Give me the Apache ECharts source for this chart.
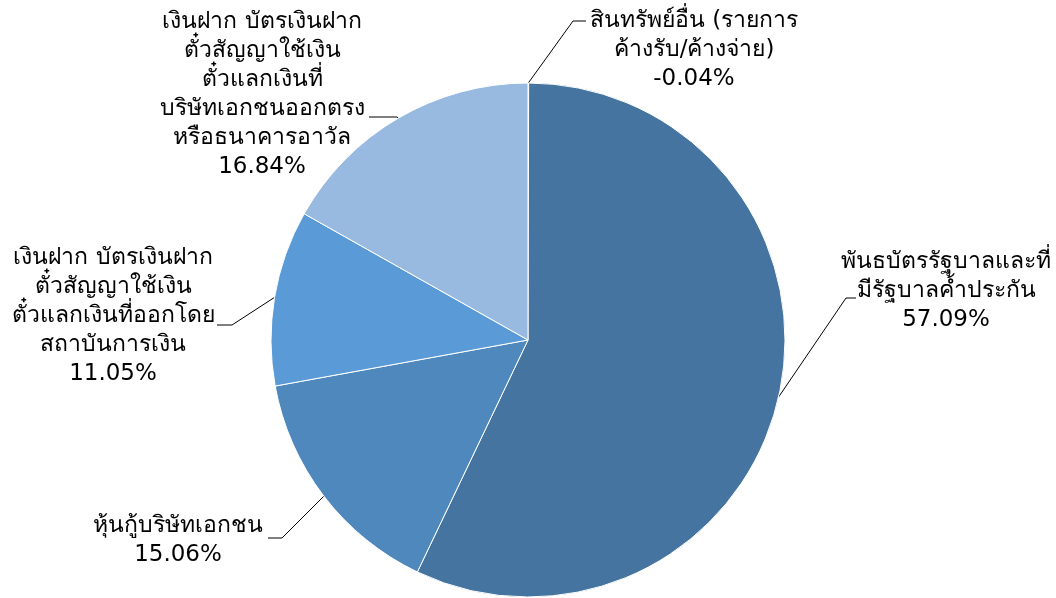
<!DOCTYPE html>
<html>
<head>
<meta charset="utf-8">
<script src="https://cdn.jsdelivr.net/npm/echarts@6/dist/echarts.min.js"></script>
<style>
  html, body { margin: 0; padding: 0; background: #fff; }
  #main { width: 1056px; height: 598px; }
</style>
</head>
<body>
<div id="main"></div>
<script>
// สัดส่วนการลงทุน (pie)
var names = [
    'สินทรัพย์อื่น (รายการ\nค้างรับ/ค้างจ่าย)',
    'พันธบัตรรัฐบาลและที่\nมีรัฐบาลค้ำประกัน',
    'หุ้นกู้บริษัทเอกชน',
    'เงินฝาก บัตรเงินฝาก\nตั๋วสัญญาใช้เงิน\nตั๋วแลกเงินที่ออกโดย\nสถาบันการเงิน',
    'เงินฝาก บัตรเงินฝาก\nตั๋วสัญญาใช้เงิน\nตั๋วแลกเงินที่\nบริษัทเอกชนออกตรง\nหรือธนาคารอาวัล'
];
var percents = [-0.04, 57.09, 15.06, 11.05, 16.84];
var colors = ['#44749f', '#44749f', '#4f88bc', '#5a9ad6', '#98b9e0'];

// ตำแหน่งป้าย (กลางกล่องข้อความ, จุดหักเส้น, ปลายเส้น)
var labelPos = [
    { c: [694, 50],  elbow: [573, 21],  end: [586, 21] },
    { c: [946, 291], elbow: [846, 298], end: [856, 298] },
    { c: [178, 541], elbow: [282, 538], end: [268, 538] },
    { c: [113, 316], elbow: [232, 325], end: [217, 325] },
    { c: [262, 95],  elbow: [397, 117], end: [369, 117] }
];

var pieData = names.map(function (n, i) {
    return {
        name: n,
        // excel ใช้ค่าสัมบูรณ์สำหรับค่าติดลบ
        value: Math.abs(percents[i]),
        pct: percents[i],
        itemStyle: { color: colors[i] }
    };
});

var font = 'Tahoma, "DejaVu Sans", sans-serif';

var option = {
    animation: false,
    series: [{
        type: 'pie',
        center: [528, 340],
        radius: 257,
        startAngle: 90,
        clockwise: true,
        data: pieData,
        itemStyle: { borderColor: '#ffffff', borderWidth: 1 },
        label: {
            show: true,
            fontFamily: font,
            fontSize: 23,
            color: '#000',
            formatter: function (p) {
                var lines = p.data.name.split('\n');
                lines.push(p.data.pct.toFixed(2) + '%');
                return lines.map(function (l) { return '{c|' + l + '}'; }).join('\n');
            },
            rich: {
                c: { align: 'center', fontSize: 23, lineHeight: 29, fontFamily: font, color: '#000' }
            }
        },
        labelLine: {
            show: true,
            length: 20,
            length2: 14,
            lineStyle: { color: '#000', width: 1 }
        },
        labelLayout: function (params) {
            var L = labelPos[params.dataIndex];
            var s = params.labelLinePoints ? params.labelLinePoints[0] : L.elbow;
            return {
                x: L.c[0],
                y: L.c[1],
                align: 'center',
                verticalAlign: 'middle',
                labelLinePoints: [s, L.elbow, L.end]
            };
        }
    }]
};

var myChart = echarts.init(document.getElementById('main'));
myChart.setOption(option);
</script>
</body>
</html>
